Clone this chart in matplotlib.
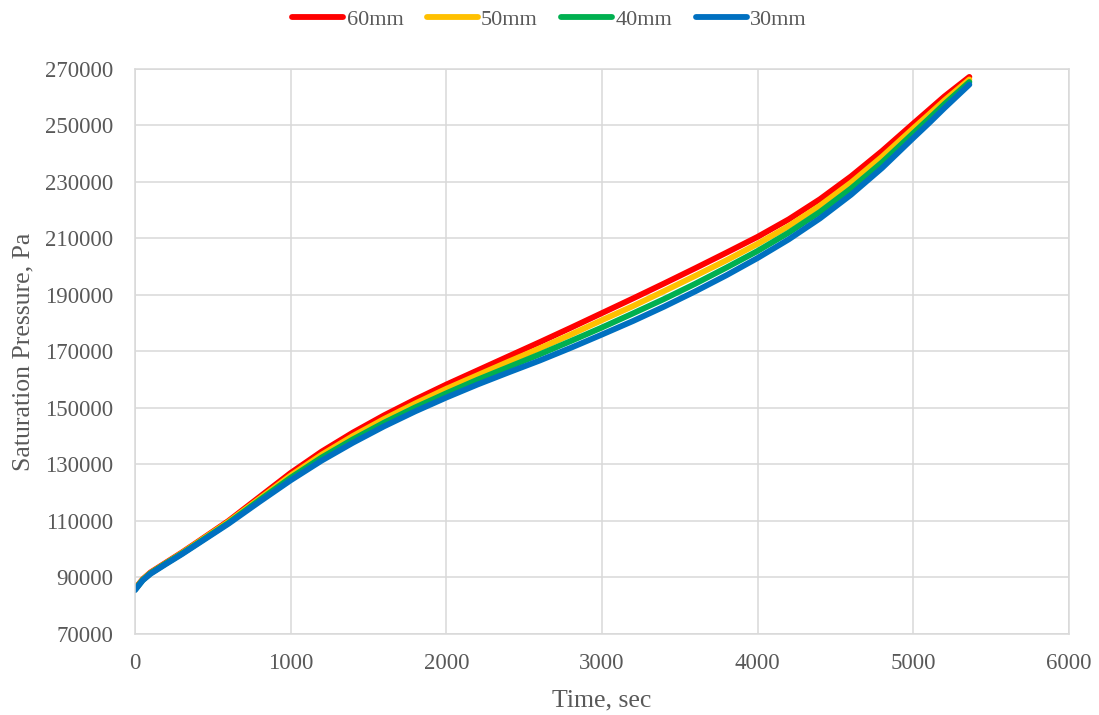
#!/usr/bin/env python3
"""Saturation pressure vs time for four sizes."""
import matplotlib
matplotlib.use("Agg")
import matplotlib.pyplot as plt

# ── data ──
time_s = [0, 50, 100, 200, 300, 400, 600, 800, 1000, 1200, 1400, 1600, 1800,
          2000, 2200, 2400, 2600, 2800, 3000, 3200, 3400, 3600, 3800, 4000,
          4200, 4400, 4600, 4800, 5000, 5100, 5200, 5360]

p_60mm = [86000, 89400, 91800, 95300, 98800, 102500, 110000, 118500, 127000,
          134600, 141300, 147400, 153000, 158300, 163300, 168300, 173300,
          178400, 183600, 188800, 194100, 199500, 205000, 210600, 216800,
          223900, 232000, 241000, 250700, 255500, 260300, 267200]
p_50mm = [85800, 89300, 91600, 95100, 98600, 102300, 109700, 117900, 126100,
          133500, 140100, 146100, 151600, 156800, 161600, 166400, 171100,
          176000, 181100, 186100, 191400, 196800, 202300, 208100, 214400,
          221600, 229800, 239000, 249000, 253900, 258900, 266300]
p_40mm = [85700, 89100, 91500, 95000, 98400, 102000, 109300, 117400, 125300,
          132500, 138900, 144800, 150200, 155200, 160000, 164500, 169000,
          173700, 178500, 183500, 188600, 194000, 199700, 205600, 212100,
          219400, 227700, 237000, 247300, 252400, 257600, 265400]
p_30mm = [85500, 89000, 91300, 94800, 98200, 101800, 109000, 116800, 124400,
          131400, 137700, 143500, 148800, 153700, 158300, 162600, 166800,
          171300, 176000, 180800, 185900, 191300, 197000, 203100, 209700,
          217100, 225500, 235000, 245600, 250800, 256200, 264500]

labels = ["60mm", "50mm", "40mm", "30mm"]
colors = ["#FF0000", "#FFC000", "#00B050", "#0070C0"]
x_ticks = [0, 1000, 2000, 3000, 4000, 5000, 6000]
y_ticks = [70000, 90000, 110000, 130000, 150000, 170000, 190000, 210000,
           230000, 250000, 270000]

TXT = "#595959"
GRID = "#D9D9D9"
plt.rcParams["font.family"] = ["Liberation Serif", "DejaVu Serif"]

fig = plt.figure(figsize=(10.99, 7.15), dpi=100)
ax = fig.add_axes([0.1228, 0.1133, 0.8499, 0.7902])

for series, lab, col in zip([p_60mm, p_50mm, p_40mm, p_30mm], labels, colors):
    ax.plot(time_s, series, color=col, lw=4.2, label=lab,
            solid_capstyle="round", solid_joinstyle="round")

ax.set_xlim(0, 6000)
ax.set_ylim(70000, 270000)
ax.set_xticks(x_ticks)
ax.set_yticks(y_ticks)
ax.grid(True, color=GRID, lw=1.1)
ax.set_axisbelow(True)
for s in ax.spines.values():
    s.set_color(GRID)
    s.set_linewidth(1.1)
ax.tick_params(length=0, labelsize=16.5, colors=TXT)
ax.tick_params(axis="x", pad=13.5)
ax.tick_params(axis="y", pad=15.5)

ax.set_xlabel("Time, sec", fontsize=18.5, color=TXT, labelpad=11)
ax.set_ylabel("Saturation Pressure, Pa", fontsize=18.5, color=TXT, labelpad=8)

fig.legend(loc="upper center", bbox_to_anchor=(0.5, 1.015), ncol=4,
           frameon=False, fontsize=16, handlelength=2.3, handletextpad=0.15,
           columnspacing=1.05, labelcolor=TXT)

fig.savefig("out.png", dpi=100, facecolor="white")
plt.close(fig)
